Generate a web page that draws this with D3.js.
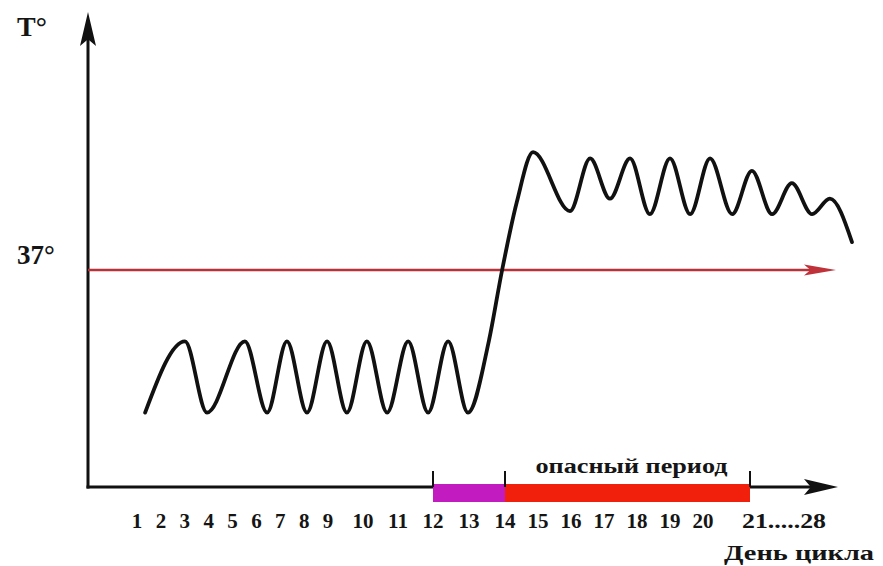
<!DOCTYPE html>
<html lang="ru">
<head>
<meta charset="UTF-8">
<title>Базальная температура</title>
<script src="https://d3js.org/d3.v7.min.js"></script>
<style>
  body { margin: 0; background: #fff; }
  svg { display: block; }
  text { font-family: "Liberation Serif", "DejaVu Serif", serif; font-weight: bold; fill: #151515; }
</style>
</head>
<body>
<div id="chart"></div>
<script>
// day labels on the x axis
const labelDays = [1, 2, 3, 4, 5, 6, 7, 8, 9, 10, 11, 12, 13, 14, 15, 16, 17, 18, 19, 20, 21];
const dayLabels = ["1", "2", "3", "4", "5", "6", "7", "8", "9", "10", "11", "12", "13", "14",
                   "15", "16", "17", "18", "19", "20", "21.....28"];

// temperature curve (day of cycle, degrees)
const curveDays  = [1.34, 3.01, 3.93, 5.52, 6.45, 7.28, 8.12, 8.96, 9.54, 10.11, 10.69, 11.29,
                    11.86, 12.42, 12.97, 13.55, 13.92, 14.36, 14.85, 15.97, 16.58, 17.18, 17.79,
                    18.39, 19.00, 19.61, 20.15, 20.62, 21.04, 21.47, 21.89, 22.32, 22.70, 23.17];
const curveTemps = [36.54, 36.77, 36.54, 36.77, 36.54, 36.77, 36.54, 36.77, 36.54, 36.77, 36.54, 36.77,
                    36.54, 36.77, 36.54, 36.77, 37.00, 37.22, 37.38, 37.19, 37.36, 37.23, 37.36,
                    37.18, 37.36, 37.18, 37.36, 37.18, 37.32, 37.18, 37.28, 37.18, 37.23, 37.09];

const refTemp = 37;
const refLabel = "37°";
const zoneDays = [[12, 14], [14, 21]];
const markerDays = [12, 14, 21];
const zoneTitle = "опасный период";
const yTitle = "T°";
const xTitle = "День цикла";

const width = 883, height = 566;
const originX = 88, originY = 487;
const xEnd = 838, yTop = 12;

const svg = d3.select("#chart").append("svg")
    .attr("width", width)
    .attr("height", height);

// the day spacing in the picture is uneven, so the scale is piecewise
const x = d3.scaleLinear()
    .domain([1, 9, 12, 14, 20, 21])
    .range([137, 328, 433, 505, 703, 750]);

const y = d3.scaleLinear()
    .domain([36.3, 37.0])
    .range([originY, 270]);

function arrowHead(tipX, tipY, len, half, dir, color) {
    let pts;
    if (dir === "right") pts = [[tipX, tipY], [tipX - len, tipY - half], [tipX - len * 0.8, tipY], [tipX - len, tipY + half]];
    else pts = [[tipX, tipY], [tipX - half, tipY + len], [tipX, tipY + len * 0.8], [tipX + half, tipY + len]];
    svg.append("path")
        .attr("d", d3.line()(pts) + "Z")
        .attr("fill", color);
}

// axes
svg.append("line")
    .attr("x1", originX).attr("y1", originY + 1.5)
    .attr("x2", originX).attr("y2", yTop + 20)
    .attr("stroke", "#111").attr("stroke-width", 3);
arrowHead(originX, yTop, 34, 8, "up", "#111");

svg.append("line")
    .attr("x1", originX - 1.5).attr("y1", originY)
    .attr("x2", xEnd - 20).attr("y2", originY)
    .attr("stroke", "#111").attr("stroke-width", 3);
arrowHead(xEnd, originY, 34, 8, "right", "#111");

// 37 degree reference arrow
svg.append("line")
    .attr("x1", originX).attr("y1", y(refTemp))
    .attr("x2", 815).attr("y2", y(refTemp))
    .attr("stroke", "#b8323a").attr("stroke-width", 2.4);
arrowHead(836, y(refTemp), 32, 5.5, "right", "#c0323a");

// zone bars
const zoneColors = ["#c21cc0", "#f0200c"];
svg.selectAll("rect.zone")
    .data(zoneDays)
    .join("rect")
    .attr("class", "zone")
    .attr("x", d => x(d[0]))
    .attr("y", originY - 3)
    .attr("width", d => x(d[1]) - x(d[0]))
    .attr("height", 18)
    .attr("fill", (d, i) => zoneColors[i]);

svg.selectAll("line.marker")
    .data(markerDays)
    .join("line")
    .attr("class", "marker")
    .attr("x1", d => x(d)).attr("x2", d => x(d))
    .attr("y1", originY - 16).attr("y2", originY)
    .attr("stroke", "#111").attr("stroke-width", 2);

svg.append("text")
    .attr("x", (x(14) + x(21)) / 2 + 4)
    .attr("y", 473)
    .attr("text-anchor", "middle")
    .attr("font-size", 20)
    .attr("textLength", 192)
    .attr("lengthAdjust", "spacingAndGlyphs")
    .text(zoneTitle);

// day labels
const last = labelDays.length - 1;
svg.selectAll("text.day")
    .data(labelDays)
    .join("text")
    .attr("class", "day")
    .attr("x", (d, i) => i === last ? x(d) - 8 : x(d))
    .attr("y", 528)
    .attr("text-anchor", (d, i) => i === last ? "start" : "middle")
    .attr("font-size", 21)
    .attr("textLength", (d, i) => i === last ? 84 : null)
    .attr("lengthAdjust", "spacingAndGlyphs")
    .text((d, i) => dayLabels[i]);

// temperature curve
const pts = curveDays.map((d, i) => [x(d), y(curveTemps[i])]);
svg.append("path")
    .attr("d", d3.line().curve(d3.curveMonotoneX)(pts))
    .attr("fill", "none")
    .attr("stroke", "#111")
    .attr("stroke-width", 3.8)
    .attr("stroke-linejoin", "round")
    .attr("stroke-linecap", "round");

// titles
svg.append("text")
    .attr("x", 17).attr("y", 36)
    .attr("font-size", 28)
    .text(yTitle);

svg.append("text")
    .attr("x", 17).attr("y", 264)
    .attr("font-size", 27)
    .text(refLabel);

svg.append("text")
    .attr("x", 874).attr("y", 560)
    .attr("text-anchor", "end")
    .attr("font-size", 21)
    .attr("textLength", 150)
    .attr("lengthAdjust", "spacingAndGlyphs")
    .text(xTitle);
</script>
</body>
</html>
